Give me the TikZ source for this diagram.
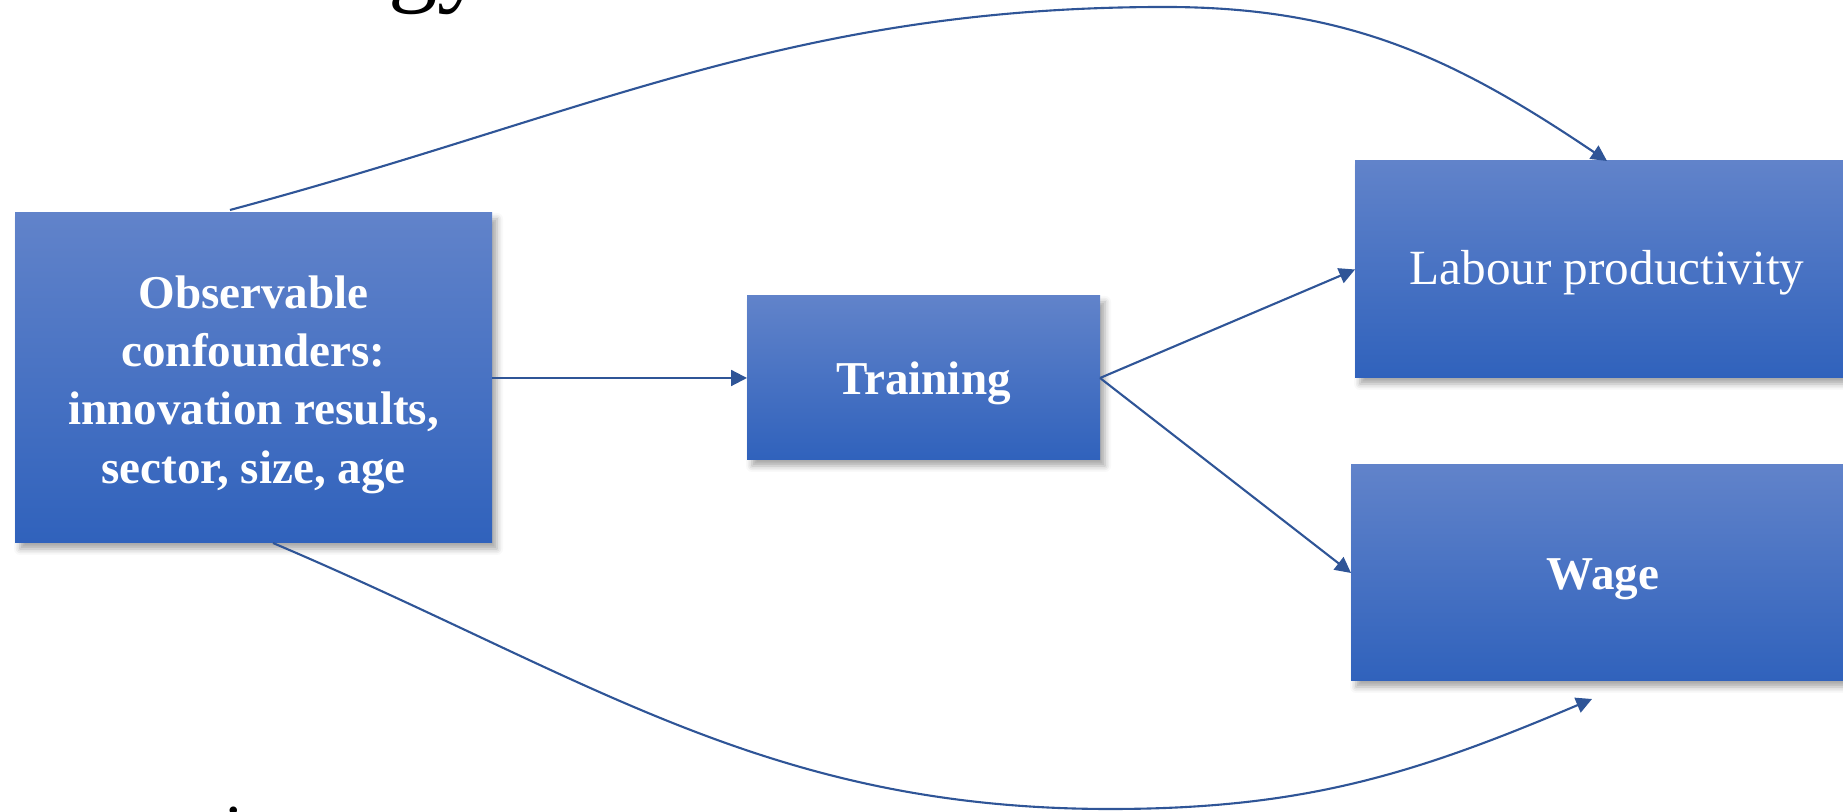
\documentclass[tikz,border=0pt]{standalone}
\usepackage{fontspec}
\setmainfont{Liberation Serif}
\usetikzlibrary{arrows.meta,shadows.blur}
\definecolor{boxtop}{RGB}{97,131,202}
\definecolor{boxbot}{RGB}{48,98,188}
\definecolor{linkblue}{RGB}{47,85,151}
% centred lines, set a little low in the box
\newcommand\boxtext[2][0.45mm]{\raisebox{-#1}[\height][\depth]{\begin{tabular}{@{}c@{}}#2\end{tabular}}}
\begin{document}
\begin{tikzpicture}[
		box/.style={rectangle, top color=boxtop, bottom color=boxbot, draw=none,
			inner sep=0pt, outer sep=0pt, text=white,
			font=\fontsize{13.4}{16.6}\selectfont\bfseries,
			blur shadow={shadow xshift=0.5mm, shadow yshift=-0.6mm,
				shadow blur radius=0.6mm, shadow opacity=35}},
		link/.style={draw=linkblue, line width=0.6pt,
			-{Triangle[length=4.5pt,width=4.5pt]}}
	]
		\useasboundingbox (0,0) rectangle (18.43,8.12);
		% boxes
		\node[box, minimum width=4.77cm, minimum height=3.30cm] (conf) at (2.535,4.34)
			{\boxtext[0.6mm]{Observable\\confounders:\\innovation results,\\sector, size, age}};
		\node[box, minimum width=3.53cm, minimum height=1.64cm] (train) at (9.235,4.34) {\boxtext{Training}};
		\node[box, minimum width=5.04cm, minimum height=2.17cm,
			font=\fontsize{14}{16.8}\selectfont] (lab) at (16.07,5.425) {\boxtext[0.3mm]{Labour productivity}};
		\node[box, minimum width=5.04cm, minimum height=2.16cm] (wage) at (16.03,2.39) {\boxtext[0.5mm]{Wage}};
		% bends of the long arrows
		\coordinate (over) at (11.65,8.05);
		\coordinate (under) at (11.1,0.03);
		% arrows
		\draw[link] (conf.east) -- (train.west);
		\draw[link] (train.east) -- (lab.west);
		\draw[link] (train.east) -- (wage.west);
		\draw[link] ([xshift=-2.35mm,yshift=0.3mm]conf.north) to[out=15,in=180] (over)
			to[out=0,in=146] (lab.north);
		\draw[link] ([xshift=1.95mm]conf.south) to[out=-23,in=180] (under)
			to[out=0,in=-157] ([xshift=-1.1mm,yshift=-1.8mm]wage.south);
		% bits of text at the edges
		\node[anchor=base west, inner sep=0pt, font=\fontsize{28}{30}\selectfont] (head) at (3.88,8.185) {gy};
		\node[anchor=north, inner sep=0pt, font=\fontsize{20}{24}\selectfont] (foot) at (2.34,0.06) {i};
	\end{tikzpicture}
\end{document}
